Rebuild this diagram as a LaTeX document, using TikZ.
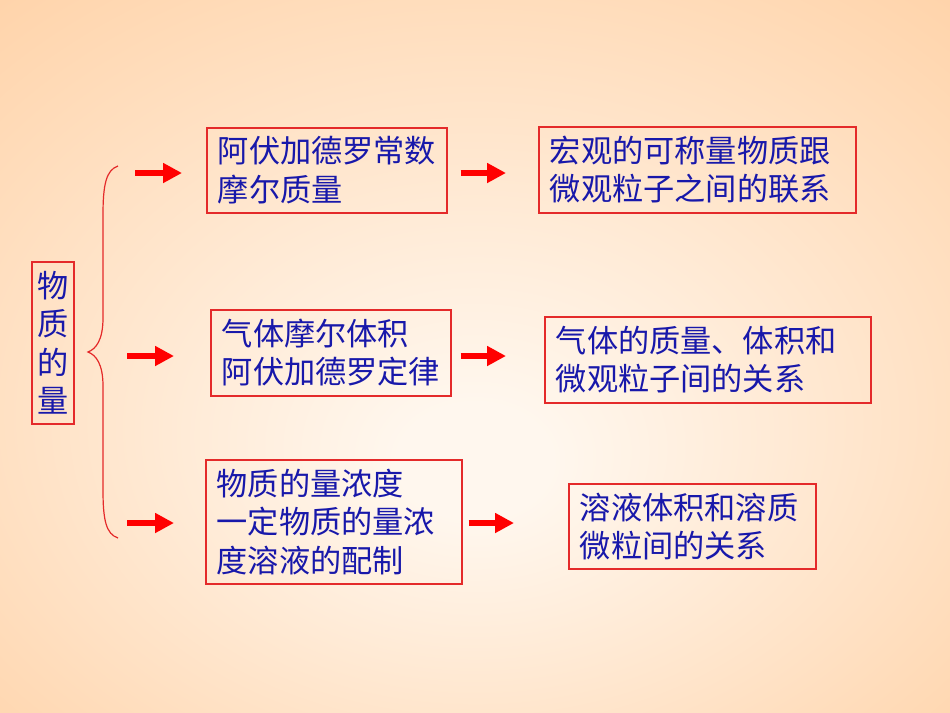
\documentclass[tikz,border=0pt]{standalone}
\usepackage{fontspec}
\newfontfamily\cjk{Noto Sans CJK SC}
\usepackage{xcolor}
\usepackage{tikz}
\usetikzlibrary{arrows.meta, positioning}

\definecolor{boxred}{RGB}{228,42,42}
\definecolor{textblue}{RGB}{24,24,170}
\definecolor{bgin}{RGB}{255,247,238}
\definecolor{bgout}{RGB}{255,198,144}
\pgfdeclareradialshading{bgshade}{\pgfpoint{0bp}{-8bp}}{color(0bp)=(bgin); color(4bp)=(bgin); color(50bp)=(bgout)}

\begin{document}
\begin{tikzpicture}[x=0.5pt, y=-0.5pt,
    box/.style={draw=boxred, line width=0.8pt, text=textblue, align=left, anchor=north west,
        inner xsep=5.5pt, inner ysep=0pt, font=\cjk\fontsize{15.6}{19.2}\selectfont},
    redarrow/.style={draw=red, line width=3pt, -{Triangle[length=9.5pt, width=9.5pt]}}]
        \shade[shading=bgshade] (0,0) rectangle (950,713);

        \node[box, align=center, text width=16pt, inner xsep=2.5pt, minimum height=81pt] (amount) at (31,261) {物\\质\\的\\量};

        \node[box, text width=109pt, minimum height=42.5pt] (avo) at (206,127) {阿伏加德罗常数\\摩尔质量};
        \node[box, text width=147.5pt, minimum height=43pt] (macro) at (538,126) {宏观的可称量物质跟\\微观粒子之间的联系};

        \node[box, text width=109pt, minimum height=43pt] (gasvol) at (210,309) {气体摩尔体积\\阿伏加德罗定律};
        \node[box, text width=152pt, minimum height=43pt] (gasrel) at (544,316) {气体的质量、体积和\\微观粒子间的关系};

        \node[box, text width=117pt, minimum height=62pt] (conc) at (205,459) {物质的量浓度\\一定物质的量浓\\度溶液的配制};
        \node[box, text width=112.5pt, minimum height=42.5pt] (solrel) at (568,483) {溶液体积和溶质\\微粒间的关系};

        % brace
        \coordinate (btop) at (118,166);
        \coordinate (btip) at (88,352);
        \coordinate (bbot) at (118,538);
        \draw[boxred, line width=0.6pt] (btop) .. controls (106,170) and (103,185) .. (103,215) -- (103,318)
            .. controls (103,340) and (96,349) .. (btip) .. controls (96,355) and (103,364) .. (103,386)
            -- (103,490) .. controls (103,520) and (106,534) .. (bbot);

        \coordinate (s1) at (135,173);
        \coordinate (s2) at (127,356);
        \coordinate (s3) at (127,523);

        \draw[redarrow, shorten >=12pt] (s1) -- (s1 -| avo.west);
        \draw[redarrow, shorten >=18pt] (s2) -- (s2 -| gasvol.west);
        \draw[redarrow, shorten >=15.5pt] (s3) -- (s3 -| conc.west);

        \draw[redarrow, shorten <=6.5pt, shorten >=16pt] (avo.east |- s1) -- (macro.west |- s1);
        \draw[redarrow, shorten <=4.5pt, shorten >=19pt] (gasvol.east |- s2) -- (gasrel.west |- s2);
        \draw[redarrow, shorten <=3pt, shorten >=27pt] (conc.east |- s3) -- (solrel.west |- s3);
\end{tikzpicture}
\end{document}
